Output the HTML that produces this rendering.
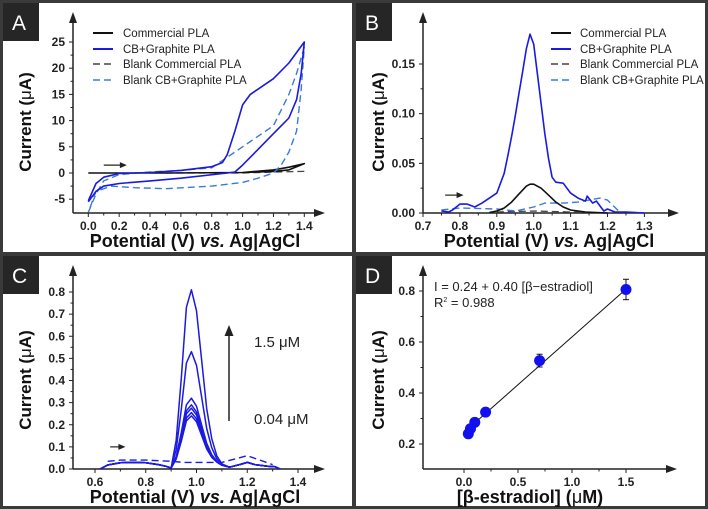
<!DOCTYPE html>
<html><head><meta charset="utf-8"><style>
body{margin:0;background:#fff}
svg{display:block;font-family:"Liberation Sans",Arial,sans-serif}
.tk{font-size:12px;font-weight:bold;fill:#222}
.ttl{font-size:18px;font-weight:bold;fill:#111}
.yttl{font-size:17px;font-weight:bold;fill:#111}
.lg{font-size:11.5px;fill:#222}
.ann{font-size:15px;fill:#222}
.lab{font-size:21px;fill:#fff}
</style></head><body>
<svg id="fig" width="708" height="509" viewBox="0 0 708 509">
<rect x="0" y="0" width="708" height="509" fill="#3a3a3a"/>
<rect x="3" y="3" width="349" height="249" fill="#fff"/>
<rect x="356" y="3" width="349" height="249" fill="#fff"/>
<rect x="3" y="256" width="349" height="250" fill="#fff"/>
<rect x="356" y="256" width="349" height="250" fill="#fff"/>
<g><rect x="3" y="3" width="36" height="38" fill="#262626"/><text class="lab" x="12" y="30">A</text></g>
<g><rect x="356" y="3" width="36" height="38" fill="#262626"/><text class="lab" x="365" y="30">B</text></g>
<g><rect x="3" y="256" width="36" height="38" fill="#262626"/><text class="lab" x="12" y="283">C</text></g>
<g><rect x="356" y="256" width="36" height="38" fill="#262626"/><text class="lab" x="365" y="283">D</text></g>

<g>
<line x1="93" y1="33" x2="113" y2="33" stroke="#111" stroke-width="2"/><text class="lg" x="123" y="37">Commercial PLA</text>
<line x1="93" y1="49" x2="113" y2="49" stroke="#1a1ae0" stroke-width="2"/><text class="lg" x="123" y="53">CB+Graphite PLA</text>
<line x1="93" y1="64" x2="113" y2="64" stroke="#444" stroke-width="1.5" stroke-dasharray="7,4"/><text class="lg" x="123" y="68">Blank Commercial PLA</text>
<line x1="93" y1="80" x2="113" y2="80" stroke="#3a7ad8" stroke-width="1.5" stroke-dasharray="7,4"/><text class="lg" x="123" y="84">Blank CB+Graphite PLA</text>
</g>
<g>
<line x1="551" y1="33" x2="571" y2="33" stroke="#111" stroke-width="2"/><text class="lg" x="580" y="37">Commercial PLA</text>
<line x1="551" y1="49" x2="571" y2="49" stroke="#1a1ae0" stroke-width="2"/><text class="lg" x="580" y="53">CB+Graphite PLA</text>
<line x1="551" y1="64" x2="571" y2="64" stroke="#444" stroke-width="1.5" stroke-dasharray="7,4"/><text class="lg" x="580" y="68">Blank Commercial PLA</text>
<line x1="551" y1="80" x2="571" y2="80" stroke="#3a7ad8" stroke-width="1.5" stroke-dasharray="7,4"/><text class="lg" x="580" y="84">Blank CB+Graphite PLA</text>
</g>
<g>
<line x1="229" y1="421" x2="229" y2="334" stroke="#222" stroke-width="1.5"/>
<polygon points="229,325 224.5,336 233.5,336" fill="#222"/>
<text class="ann" x="254" y="347">1.5 μM</text>
<text class="ann" x="254" y="424">0.04 μM</text>
</g>
<g>
<text class="lg" x="434" y="291" style="font-size:13px">I = 0.24 + 0.40 [β−estradiol]</text>
<text class="lg" x="434" y="307" style="font-size:13px">R<tspan dy="-5" style="font-size:7px">2</tspan><tspan dy="5"> = 0.988</tspan></text>
</g>
</svg>
<script>
// ---- Panel A data (CV) ----
const aCbE=[0,0.05,0.1,0.2,0.4,0.6,0.8,0.87,0.9,0.95,1.0,1.05,1.1,1.2,1.3,1.4,1.38,1.35,1.3,1.2,1.1,1.0,0.95,0.9,0.6,0.4,0.2,0.1,0.05,0];
const aCbI=[-5.3,-2,-0.8,-0.1,0.1,0.5,1.2,2,3.5,8,13,15,16,18,21,25,19,14,10.5,7.5,4.5,1.5,0.2,0,-1,-1.5,-2,-2.5,-3.5,-5.5];
const aBlankCbE=[0,0.05,0.1,0.2,0.4,0.6,0.8,0.9,1.0,1.2,1.3,1.35,1.4,1.38,1.35,1.3,1.25,1.2,1.1,1.0,0.8,0.5,0.3,0.15,0.05,0];
const aBlankCbI=[-7.5,-4,-1.5,-0.3,0.2,0.5,1,3,5,9,15,19,24,16,8,4,1.5,0,-1,-1.8,-2.5,-3,-2.8,-2.5,-3.5,-7.5];
const aComE=[0,0.5,1.0,1.2,1.3,1.4,1.3,1.2,1.0,0.5,0];
const aComI=[0,0,0.1,0.6,1.1,1.8,0.6,0.3,0.1,0,0];
const aBlankComE=[0.5,1.0,1.2,1.4];
const aBlankComI=[0,0,0.2,0.3];
const aXTicks=[0,0.2,0.4,0.6,0.8,1.0,1.2,1.4];
const aYTicks=[-5,0,5,10,15,20,25];
// ---- Panel B data (DPV) ----
const bCbE=[0.75,0.77,0.78,0.8,0.82,0.84,0.86,0.88,0.9,0.92,0.93,0.94,0.95,0.96,0.97,0.98,0.99,1.0,1.01,1.02,1.03,1.04,1.05,1.06,1.08,1.1,1.12,1.14,1.145,1.16,1.17,1.19,1.2,1.22,1.25,1.3];
const bCbI=[0.002,0.001,0.003,0.009,0.009,0.006,0.01,0.015,0.02,0.04,0.058,0.077,0.098,0.12,0.142,0.165,0.18,0.17,0.14,0.11,0.08,0.055,0.036,0.031,0.03,0.02,0.015,0.012,0.017,0.01,0.012,0.002,0.004,0.001,0.001,0];
const bComE=[0.88,0.9,0.92,0.94,0.96,0.98,0.99,1.0,1.02,1.04,1.06,1.08,1.1,1.14,1.2];
const bComI=[0.0005,0.002,0.005,0.011,0.019,0.027,0.029,0.029,0.025,0.018,0.011,0.006,0.003,0.001,0];
const bBlankCbE=[0.75,0.8,0.9,0.95,1.0,1.03,1.08,1.12,1.15,1.18,1.2,1.23];
const bBlankCbI=[0.003,0.005,0.004,0.002,0.006,0.01,0.01,0.011,0.013,0.015,0.013,0.002];
const bBlankComE=[0.9,1.0,1.1,1.2];
const bBlankComI=[0.001,0.002,0.001,0];
const bXTicks=[0.7,0.8,0.9,1.0,1.1,1.2,1.3];
const bYTicks=[0,0.05,0.10,0.15];
// ---- Panel C data ----
const cE=[0.62,0.65,0.7,0.75,0.8,0.85,0.88,0.9,0.92,0.94,0.96,0.98,1.0,1.02,1.04,1.06,1.08,1.1,1.13,1.17,1.2,1.23,1.28,1.31,1.33];
const cBase=[0,0.018,0.028,0.03,0.028,0.02,0.012,0.004,0.012,0.015,0.02,0.02,0.02,0.02,0.02,0.02,0.02,0.015,0.008,0.02,0.03,0.02,0.012,0.01,0];
const cShape=[0,0,0,0,0,0,0,0,0.15,0.5,0.9,1,0.88,0.6,0.32,0.15,0.05,0.01,0,0,0,0,0,0,0];
const cPeaks=[0.22,0.235,0.255,0.27,0.30,0.51,0.79];
const cBlankE=[0.65,0.7,0.8,0.9,0.95,1.0,1.1,1.2,1.3];
const cBlankI=[0.035,0.04,0.04,0.035,0.03,0.03,0.03,0.06,0.02];
const cXTicks=[0.6,0.8,1.0,1.2,1.4];
const cYTicks=[0,0.1,0.2,0.3,0.4,0.5,0.6,0.7,0.8];
// ---- Panel D data ----
const dConc=[0.04,0.06,0.1,0.2,0.7,1.5];
const dCurr=[0.24,0.26,0.285,0.325,0.527,0.806];
const dErr=[0.01,0.01,0.01,0.01,0.025,0.04];
const dFit=[0.245,0.375];
const dXTicks=[0,0.5,1.0,1.5];
const dYTicks=[0.2,0.4,0.6,0.8];

const NS='http://www.w3.org/2000/svg';
const fig=document.getElementById('fig');
function mk(tag,attrs,name,parent){
  const el=document.createElementNS(NS,tag);
  for(const k in attrs) el.setAttribute(k,attrs[k]);
  
  
  (parent||fig).appendChild(el);
  return el;
}
function scale(d0,d1,p0,p1){return v=>p0+(v-d0)*(p1-p0)/(d1-d0);}
function axes(o){
  const g=mk('g',{},o.name+'-axes');
  mk('line',{x1:o.ax,y1:o.ay,x2:o.ax,y2:o.top+8,stroke:'#222','stroke-width':1.5},'y-axis',g);
  mk('polygon',{points:`${o.ax},${o.top} ${o.ax-4},${o.top+11} ${o.ax+4},${o.top+11}`,fill:'#222'},'y-axis-arrow',g);
  mk('line',{x1:o.ax,y1:o.ay,x2:o.right-8,y2:o.ay,stroke:'#222','stroke-width':1.5},'x-axis',g);
  mk('polygon',{points:`${o.right},${o.ay} ${o.right-11},${o.ay-4} ${o.right-11},${o.ay+4}`,fill:'#222'},'x-axis-arrow',g);
  o.xt.forEach((v,i)=>{const x=o.X(v);
    mk('line',{x1:x,y1:o.ay,x2:x,y2:o.ay+4,stroke:'#222'},'x-tick',g);
    const t=mk('text',{x:x,y:o.ay+17,'text-anchor':'middle',class:'tk'},'x-tick-label',g);t.textContent=o.xf(v);
    if(i<o.xt.length-1){const xm=o.X((v+o.xt[i+1])/2);mk('line',{x1:xm,y1:o.ay,x2:xm,y2:o.ay+2.5,stroke:'#222'},'x-minor-tick',g);}
  });
  o.yt.forEach((v,i)=>{const y=o.Y(v);
    mk('line',{x1:o.ax,y1:y,x2:o.ax-4,y2:y,stroke:'#222'},'y-tick',g);
    const t=mk('text',{x:o.ax-8,y:y+4,'text-anchor':'end',class:'tk'},'y-tick-label',g);t.textContent=o.yf(v);
    if(i<o.yt.length-1){const ym=o.Y((v+o.yt[i+1])/2);mk('line',{x1:o.ax,y1:ym,x2:o.ax-2.5,y2:ym,stroke:'#222'},'y-minor-tick',g);}
  });
  const xt=mk('text',{x:o.xtx,y:o.ay+34,'text-anchor':'middle',class:'ttl'},'x-axis-title',g);
  xt.innerHTML=o.xtitle;
  const yt=mk('text',{x:0,y:0,'text-anchor':'middle',class:'yttl',transform:`translate(${o.ytx},${o.yty}) rotate(-90)`},'y-axis-title',g);
  yt.innerHTML=o.ytitle;
}
function line(E,I,X,Y,st,name){
  const d=E.map((e,i)=>(i?'L':'M')+X(e).toFixed(1)+','+Y(I[i]).toFixed(1)).join('');
  return mk('path',Object.assign({d:d,fill:'none','stroke-linejoin':'round'},st),name);
}
function arrow(x1,x2,y,name){
  mk('line',{x1:x1,y1:y,x2:x2-5,y2:y,stroke:'#222','stroke-width':1.2},name);
  mk('polygon',{points:`${x2},${y} ${x2-7},${y-3} ${x2-7},${y+3}`,fill:'#222'},name+'-head');
}
const POT='Potential (V) <tspan font-style="italic">vs.</tspan> Ag|AgCl';
const CUR='Current (<tspan font-weight="normal">μ</tspan>A)';
const BLUE='#1a1ae0',LBLUE='#3a7ad8';
// Panel A
{const X=scale(0,1.4,88.3,304.3),Y=scale(0,25,173,42);
 axes({name:'a',ax:73,ay:213,top:12,right:325,X,Y,xt:aXTicks,yt:aYTicks,xf:v=>v.toFixed(1),yf:v=>String(v),xtitle:POT,xtx:195,ytitle:CUR,ytx:31,yty:122});
 line(aBlankComE,aBlankComI,X,Y,{stroke:'#444','stroke-width':1.3,'stroke-dasharray':'7,4'},'blank-commercial-cv');
 line(aComE,aComI,X,Y,{stroke:'#111','stroke-width':1.6},'commercial-cv');
 line(aBlankCbE,aBlankCbI,X,Y,{stroke:LBLUE,'stroke-width':1.4,'stroke-dasharray':'7,4'},'blank-cb-graphite-cv');
 line(aCbE,aCbI,X,Y,{stroke:BLUE,'stroke-width':1.6},'cb-graphite-cv');
 arrow(X(0.1),X(0.25),Y(1.5),'scan-arrow-a');}
// Panel B
{const X=scale(0.7,1.3,423,644.4),Y=scale(0,0.15,213,64);
 axes({name:'b',ax:423,ay:213,top:12,right:679,X,Y,xt:bXTicks,yt:bYTicks,xf:v=>v.toFixed(1),yf:v=>v.toFixed(2),xtitle:POT,xtx:549,ytitle:CUR,ytx:384,yty:122});
 line(bBlankComE,bBlankComI,X,Y,{stroke:'#444','stroke-width':1.3,'stroke-dasharray':'7,4'},'blank-commercial-dpv');
 line(bBlankCbE,bBlankCbI,X,Y,{stroke:LBLUE,'stroke-width':1.4,'stroke-dasharray':'7,4'},'blank-cb-graphite-dpv');
 line(bComE,bComI,X,Y,{stroke:'#111','stroke-width':1.6},'commercial-dpv');
 line(bCbE,bCbI,X,Y,{stroke:BLUE,'stroke-width':1.6},'cb-graphite-dpv');
 arrow(X(0.76),X(0.81),Y(0.018),'scan-arrow-b');}
// Panel C
{const X=scale(0.6,1.4,95,298),Y=scale(0,0.8,469,292);
 axes({name:'c',ax:73,ay:469,top:265,right:325,X,Y,xt:cXTicks,yt:cYTicks,xf:v=>v.toFixed(1),yf:v=>v.toFixed(1),xtitle:POT,xtx:195,ytitle:CUR,ytx:31,yty:380});
 line(cBlankE,cBlankI,X,Y,{stroke:BLUE,'stroke-width':1.4,'stroke-dasharray':'7,4'},'blank-dpv-c');
 cPeaks.forEach((h,k)=>{
   const I=cE.map((e,i)=>cBase[i]+h*cShape[i]);
   line(cE,I,X,Y,{stroke:BLUE,'stroke-width':1.5},'dpv-curve-'+k);
 });
 arrow(X(0.66),X(0.72),Y(0.1),'scan-arrow-c');}
// Panel D
{const X=scale(0,1.5,464,626),Y=scale(0.2,0.8,444,291);
 axes({name:'d',ax:423,ay:469,top:265,right:677,X,Y,xt:dXTicks,yt:dYTicks,xf:v=>v.toFixed(1),yf:v=>v.toFixed(1),xtitle:'[β-estradiol] (<tspan font-weight="normal">μ</tspan>M)',xtx:530,ytitle:CUR,ytx:384,yty:380});
 mk('line',{x1:X(0.03),y1:Y(dFit[0]+dFit[1]*0.03),x2:X(1.5),y2:Y(dFit[0]+dFit[1]*1.5),stroke:'#111','stroke-width':1},'fit-line');
 dConc.forEach((c,i)=>{
   const x=X(c);
   mk('line',{x1:x,y1:Y(dCurr[i]-dErr[i]),x2:x,y2:Y(dCurr[i]+dErr[i]),stroke:'#111'},'error-bar');
   mk('line',{x1:x-3,y1:Y(dCurr[i]+dErr[i]),x2:x+3,y2:Y(dCurr[i]+dErr[i]),stroke:'#111'},'error-cap');
   mk('line',{x1:x-3,y1:Y(dCurr[i]-dErr[i]),x2:x+3,y2:Y(dCurr[i]-dErr[i]),stroke:'#111'},'error-cap');
   mk('circle',{cx:x,cy:Y(dCurr[i]),r:5.5,fill:'#1010ee'},'data-point');
 });}
</script>
</body></html>
